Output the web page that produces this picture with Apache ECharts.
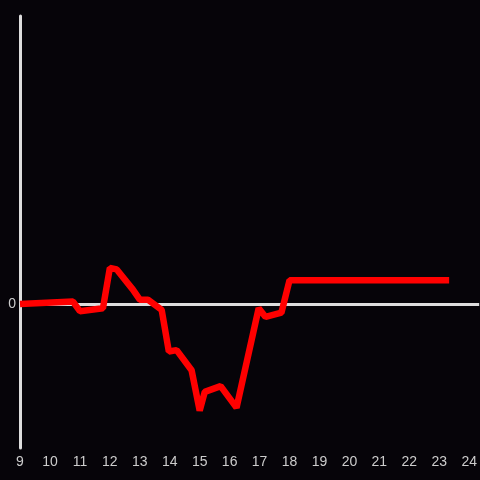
<!DOCTYPE html>
<html>
<head>
<meta charset="utf-8">
<script src="https://cdn.jsdelivr.net/npm/echarts@6/dist/echarts.min.js"></script>
<style>
  html, body { margin: 0; padding: 0; background: #060409; }
  #chart { width: 480px; height: 480px; }
</style>
</head>
<body>
<div id="chart"></div>
<script>
// hour of day and value
const hours = [9, 10.77, 11.0, 11.77, 12.0, 12.23, 12.77, 13.0, 13.27, 13.73, 13.97, 14.23, 14.73, 15.0, 15.17, 15.7, 16.23, 16.97, 17.2, 17.73, 18.0, 23.33];
const values = [0, 0.017, -0.05, -0.03, 0.25, 0.24, 0.1, 0.03, 0.03, -0.04, -0.33, -0.32, -0.46, -0.74, -0.61, -0.57, -0.72, -0.03, -0.09, -0.06, 0.165, 0.165];
const xMin = 9;
const xMax = 24.333;
const yMin = -1;
const yMax = 2;

const chart = echarts.init(document.getElementById('chart'));
const points = hours.map((h, i) => [h, values[i]]);

chart.setOption({
    backgroundColor: '#060409',
    animation: false,
    grid: {
        left: 20,
        right: 0,
        top: 16,
        bottom: 32
    },
    xAxis: {
        type: 'value',
        min: xMin,
        max: xMax,
        interval: 1,
        axisLine: { show: false },
        axisTick: { show: false },
        splitLine: { show: false },
        axisLabel: {
            color: '#cccccc',
            fontSize: 14,
            margin: 7,
            showMaxLabel: false
        }
    },
    yAxis: {
        type: 'value',
        min: yMin,
        max: yMax,
        interval: 1,
        axisLine: {
            show: true,
            onZero: false,
            lineStyle: { color: '#dddddd', width: 3 }
        },
        axisTick: { show: false },
        splitLine: { show: false },
        axisLabel: {
            color: '#cccccc',
            fontSize: 14,
            margin: 4,
            formatter: v => (v === 0 ? '0' : '')
        }
    },
    series: [
        {
            type: 'line',
            data: points,
            showSymbol: false,
            lineStyle: { color: '#ff0000', width: 6.5 },
            z: 3,
            markLine: {
                silent: true,
                symbol: 'none',
                label: { show: false },
                lineStyle: { color: '#dddddd', width: 3, type: 'solid' },
                data: [{ yAxis: 0 }],
                z: 1
            }
        }
    ]
});
</script>
</body>
</html>
